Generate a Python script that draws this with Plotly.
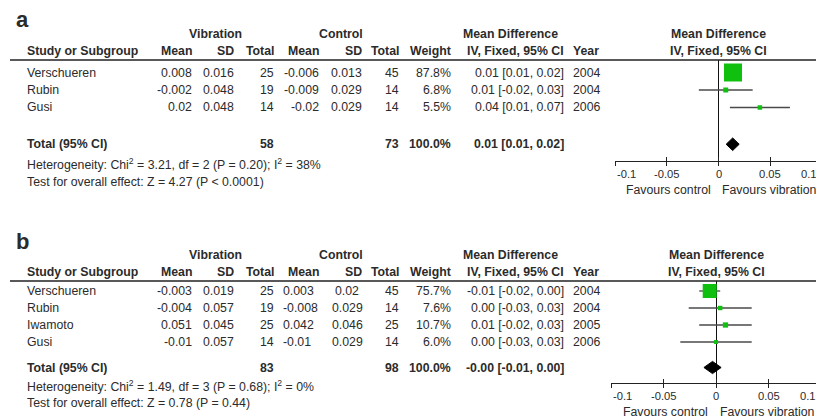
import plotly.graph_objects as go

# page / window size, and the 8px body margin the browser adds round the figure
PAGE_W, PAGE_H = 824, 420
OFF = 8
W, H = PAGE_W - OFF, PAGE_H - OFF

# ---------------- data : panel a ----------------
a_studies = ["Verschueren", "Rubin", "Gusi"]
a_vib_mean = ["0.008", "-0.002", "0.02"]
a_vib_sd = ["0.016", "0.048", "0.048"]
a_vib_n = ["25", "19", "14"]
a_ctl_mean = ["-0.006", "-0.009", "-0.02"]
a_ctl_sd = ["0.013", "0.029", "0.029"]
a_ctl_n = ["45", "14", "14"]
a_weight = [87.8, 6.8, 5.5]
a_ci_text = ["0.01 [0.01, 0.02]", "0.01 [-0.02, 0.03]", "0.04 [0.01, 0.07]"]
a_year = ["2004", "2004", "2006"]
a_md = [0.014, 0.007, 0.040]
a_lo = [0.007, -0.019, 0.011]
a_hi = [0.021, 0.033, 0.069]
a_tot_vib_n = "58"
a_tot_ctl_n = "73"
a_tot_weight = "100.0%"
a_tot_ci_text = "0.01 [0.01, 0.02]"
a_tot_md, a_tot_lo, a_tot_hi = 0.0137, 0.0074, 0.0200
a_het = "Heterogeneity: Chi<sup>2</sup> = 3.21, df = 2 (P = 0.20); I<sup>2</sup> = 38%"
a_test = "Test for overall effect: Z = 4.27 (P &lt; 0.0001)"

# ---------------- data : panel b ----------------
b_studies = ["Verschueren", "Rubin", "Iwamoto", "Gusi"]
b_vib_mean = ["-0.003", "-0.004", "0.051", "-0.01"]
b_vib_sd = ["0.019", "0.057", "0.045", "0.057"]
b_vib_n = ["25", "19", "25", "14"]
b_ctl_mean = ["0.003", "-0.008", "0.042", "-0.01"]
b_ctl_sd = ["0.02", "0.029", "0.046", "0.029"]
b_ctl_n = ["45", "14", "25", "14"]
b_weight = [75.7, 7.6, 10.7, 6.0]
b_ci_text = ["-0.01 [-0.02, 0.00]", "0.00 [-0.03, 0.03]", "0.01 [-0.02, 0.03]", "0.00 [-0.03, 0.03]"]
b_year = ["2004", "2004", "2005", "2006"]
b_md = [-0.006, 0.004, 0.009, 0.000]
b_lo = [-0.016, -0.026, -0.016, -0.034]
b_hi = [0.004, 0.034, 0.034, 0.034]
b_tot_vib_n = "83"
b_tot_ctl_n = "98"
b_tot_weight = "100.0%"
b_tot_ci_text = "-0.00 [-0.01, 0.00]"
b_tot_md, b_tot_lo, b_tot_hi = -0.0033, -0.0115, 0.0049
b_het = "Heterogeneity: Chi<sup>2</sup> = 1.49, df = 3 (P = 0.68); I<sup>2</sup> = 0%"
b_test = "Test for overall effect: Z = 0.78 (P = 0.44)"

tick_vals = [-0.1, -0.05, 0, 0.05, 0.1]
tick_text = ["-0.1", "-0.05", "0", "0.05", "0.1"]
fav_left = "Favours control"
fav_right = "Favours vibration"

# ---------------- styling ----------------
FONT = "Liberation Sans, Arial, Helvetica, sans-serif"
TXT = "#2b2b2b"
FS = 12.3        # table text and headers
FS_TICK = 11.2
GREEN = "#0fc00f"


def X(px):
    return (px - OFF) / W


def Y(py):
    return 1 - (py - OFF) / H


fig = go.Figure()
annots = []
shapes = []


def txt(x, y, s, anchor="left", bold=False, size=FS, xref="paper", xshift=0):
    annots.append(dict(
        x=x if xref != "paper" else X(x), y=Y(y), xref=xref, yref="paper",
        text=f"<b>{s}</b>" if bold else s, showarrow=False,
        xanchor=anchor, yanchor="middle", xshift=xshift,
        font=dict(family=FONT, size=size, color=TXT),
    ))


def panel(p, label, studies, vm, vs, vn, cm, cs, cn, wt, ci, yr, md, lo, hi,
          tvn, tcn, twt, tci, tmd, tlo, thi, het, test,
          top, y0, step, tot_idx, het_y, test_y, axis_y, fx0, fx1, box_max,
          ctl_mean_anchor, ctl_sd_anchor):
    xa = "x" if p == 1 else f"x{p}"
    ya = "y" if p == 1 else f"y{p}"
    # column positions (px)
    c_study = 25
    c_vm, c_vs, c_vn = 194, 236, 276
    c_cm, c_cs, c_cn = 321, 364, 401
    c_wt, c_ci, c_yr = 453, 566, 571
    # titles
    txt(14, top - 40, label, bold=True, size=22)
    h1 = top - 26
    h2 = top - 9
    txt(215, h1, "Vibration", "center", True)
    txt(341, h1, "Control", "center", True)
    txt(510, h1, "Mean Difference", "center", True)
    txt((fx0 + fx1) / 2, h1, "Mean Difference", "center", True)
    txt(c_study, h2, "Study or Subgroup", "left", True)
    txt(c_vm, h2, "Mean", "right", True)
    txt(c_vs, h2, "SD", "right", True)
    txt(c_vn, h2, "Total", "right", True)
    txt(c_cm, h2, "Mean", "right", True)
    txt(c_cs, h2, "SD", "right", True)
    txt(c_cn, h2, "Total", "right", True)
    txt(c_wt, h2, "Weight", "right", True)
    txt(c_ci, h2, "IV, Fixed, 95% CI", "right", True)
    txt(c_yr, h2, "Year", "left", True)
    txt((fx0 + fx1) / 2, h2, "IV, Fixed, 95% CI", "center", True)
    shapes.append(dict(type="line", xref="paper", yref="paper", x0=X(10), x1=1,
                       y0=Y(top), y1=Y(top), line=dict(color="#222", width=1.4)))
    # rows
    cm_x = 281 if ctl_mean_anchor == "left" else c_cm
    cs_x = 347 if ctl_sd_anchor == "center" else c_cs
    for i, s in enumerate(studies):
        yy = y0 + i * step
        txt(c_study, yy, s)
        txt(c_vm, yy, vm[i], "right")
        txt(c_vs, yy, vs[i], "right")
        txt(c_vn, yy, vn[i], "right")
        txt(cm_x, yy, cm[i], ctl_mean_anchor)
        txt(cs_x, yy, cs[i], ctl_sd_anchor)
        txt(c_cn, yy, cn[i], "right")
        txt(c_wt, yy, f"{wt[i]:.1f}%", "right")
        txt(c_ci, yy, ci[i], "right")
        txt(c_yr, yy, yr[i], "left")
    ty = y0 + tot_idx * step
    txt(c_study, ty, "Total (95% CI)", "left", True)
    txt(c_vn, ty, tvn, "right", True)
    txt(c_cn, ty, tcn, "right", True)
    txt(c_wt, ty, twt, "right", True)
    txt(c_ci, ty, tci, "right", True)
    txt(c_study, het_y, het, "left")
    txt(c_study, test_y, test, "left")

    # forest axes (row-index y-axis)
    r_top = (top - y0) / step
    r_bot = (axis_y - y0) / step
    dom_y = [Y(axis_y), Y(top)]
    idx = list(range(len(studies)))
    wmax = max(wt)
    sizes = [box_max * (w / wmax) ** 0.5 for w in wt]
    fig.add_trace(go.Scatter(
        x=md, y=idx, xaxis=xa, yaxis=ya, mode="markers",
        marker=dict(symbol="square", size=sizes, color=GREEN, opacity=1, line=dict(width=0)),
        error_x=dict(type="data", symmetric=False,
                     array=[h - m for h, m in zip(hi, md)],
                     arrayminus=[m - l for m, l in zip(md, lo)],
                     color="#4a4a4a", thickness=1.3, width=0),
        showlegend=False, hoverinfo="skip"))
    fig.add_trace(go.Scatter(
        x=[tlo, tmd, thi, tmd, tlo], y=[tot_idx, tot_idx - 0.36, tot_idx, tot_idx + 0.36, tot_idx],
        xaxis=xa, yaxis=ya, mode="lines", fill="toself", fillcolor="#000",
        line=dict(color="#000", width=1), showlegend=False, hoverinfo="skip"))
    # overlay axis for upward tick halves
    xo = f"x{p + 2}"
    fig.add_trace(go.Scatter(x=[0], y=[tot_idx], xaxis=xo, yaxis=ya, mode="markers",
                             marker=dict(size=1, opacity=0), showlegend=False, hoverinfo="skip"))
    ax = dict(domain=[X(fx0), X(fx1)], range=[-0.1, 0.1], anchor=ya,
              showgrid=False, zeroline=True, zerolinecolor="#111", zerolinewidth=1.2,
              showline=True, linecolor="#222", linewidth=1.4,
              ticks="outside", ticklen=4, tickwidth=1.3, tickcolor="#222",
              tickvals=tick_vals, showticklabels=False, fixedrange=True)
    axo = dict(domain=[X(fx0), X(fx1)], range=[-0.1, 0.1], anchor=ya,
               overlaying=xa, showgrid=False, zeroline=False, showline=False,
               ticks="inside", ticklen=4, tickwidth=1.3, tickcolor="#222",
               tickvals=tick_vals, showticklabels=False, fixedrange=True)
    ayd = dict(domain=dom_y, range=[r_bot, r_top], visible=False, fixedrange=True)
    lay = {}
    lay["xaxis" if p == 1 else f"xaxis{p}"] = ax
    lay[f"xaxis{p + 2}"] = axo
    lay["yaxis" if p == 1 else f"yaxis{p}"] = ayd
    fig.update_layout(**lay)
    # tick labels (end labels kept inside the axis span)
    n = len(tick_vals)
    for k, (tv, tt) in enumerate(zip(tick_vals, tick_text)):
        anc = "left" if k == 0 else ("right" if k == n - 1 else "center")
        sh = -3 if k == n - 1 else 0
        txt(tv, axis_y + 12.5, tt, anc, size=FS_TICK, xref=xa, xshift=sh)
    txt(-0.048, axis_y + 28.5, fav_left, "center", xref=xa)
    txt(0.049, axis_y + 28.5, fav_right, "center", xref=xa)


panel(1, "a", a_studies, a_vib_mean, a_vib_sd, a_vib_n, a_ctl_mean, a_ctl_sd, a_ctl_n,
      a_weight, a_ci_text, a_year, a_md, a_lo, a_hi,
      a_tot_vib_n, a_tot_ctl_n, a_tot_weight, a_tot_ci_text, a_tot_md, a_tot_lo, a_tot_hi,
      a_het, a_test,
      top=60, y0=72.5, step=17.5, tot_idx=4.1, het_y=164, test_y=182, axis_y=161,
      fx0=615, fx1=822, box_max=18, ctl_mean_anchor="right", ctl_sd_anchor="right")

panel(2, "b", b_studies, b_vib_mean, b_vib_sd, b_vib_n, b_ctl_mean, b_ctl_sd, b_ctl_n,
      b_weight, b_ci_text, b_year, b_md, b_lo, b_hi,
      b_tot_vib_n, b_tot_ctl_n, b_tot_weight, b_tot_ci_text, b_tot_md, b_tot_lo, b_tot_hi,
      b_het, b_test,
      top=281, y0=291, step=17, tot_idx=4.5, het_y=386, test_y=403, axis_y=383,
      fx0=611, fx1=821, box_max=14, ctl_mean_anchor="left", ctl_sd_anchor="center")

fig.update_layout(
    width=W, height=H, margin=dict(l=0, r=0, t=0, b=0),
    paper_bgcolor="white", plot_bgcolor="rgba(0,0,0,0)",
    annotations=annots, shapes=shapes, showlegend=False,
    font=dict(family=FONT, color=TXT),
)
fig.write_html("out.html")
